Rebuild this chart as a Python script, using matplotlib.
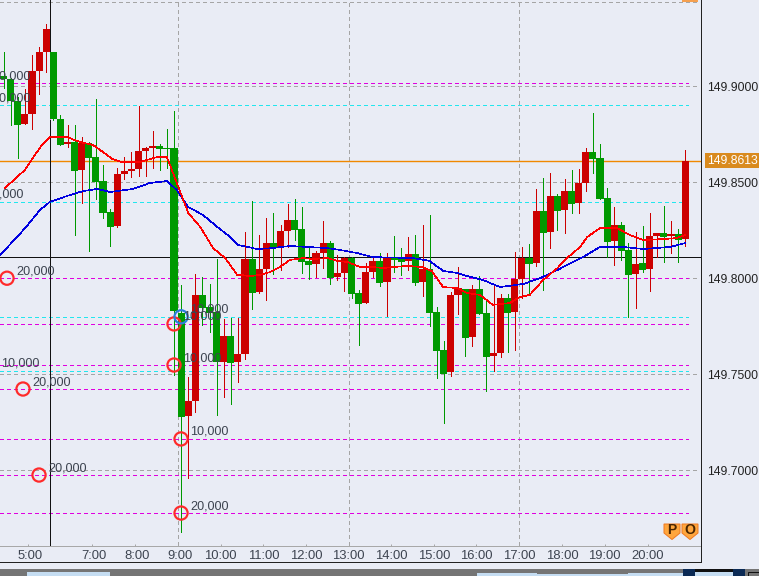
"""USD/JPY style 10-minute candle chart with moving averages and order levels."""

import matplotlib

matplotlib.use("Agg")
import matplotlib.pyplot as plt
from matplotlib.lines import Line2D
from matplotlib.patches import Polygon, Rectangle
from matplotlib.transforms import ScaledTranslation

WIDTH, HEIGHT = 759, 576
DPI = 100

opens = [
    149.9054, 149.9039, 149.8924, 149.8804, 149.8856, 149.9080, 149.9179, 149.9179, 149.8830, 149.8700,
    149.8710, 149.8565, 149.8705, 149.8632, 149.8507, 149.8346, 149.8273, 149.8544, 149.8559, 149.8570,
    149.8664, 149.8679, 149.8690, 149.8679, 149.8679, 149.7820, 149.7283, 149.7361, 149.7914, 149.7851,
    149.7825, 149.7565, 149.7700, 149.7565, 149.7606, 149.8101, 149.7929, 149.8049, 149.8184, 149.8158,
    149.8247, 149.8304, 149.8257, 149.8091, 149.8075, 149.8132, 149.8184, 149.8007, 149.8028, 149.8106,
    149.7924, 149.7872, 149.8033, 149.8091, 149.7981, 149.8111, 149.8101, 149.8091, 149.8127, 149.7981,
    149.8049, 149.7825, 149.7627, 149.7513, 149.7914, 149.7945, 149.7695, 149.7945, 149.7820, 149.7596,
    149.7611, 149.7898, 149.7825, 149.7997, 149.8106, 149.8080, 149.8351, 149.8242, 149.8429, 149.8356,
    149.8455, 149.8393, 149.8497, 149.8658, 149.8627, 149.8419, 149.8195, 149.8278, 149.8148, 149.8023,
    149.8080, 149.8049, 149.8221, 149.8236, 149.8221, 149.8231, 149.8205,
]
highs = [
    149.9179, 149.9044, 149.8945, 149.8986, 149.9164, 149.9205, 149.9325, 149.9179, 149.8851, 149.8799,
    149.8799, 149.8736, 149.8710, 149.8934, 149.8591, 149.8361, 149.8575, 149.8632, 149.8658, 149.8898,
    149.8684, 149.8768, 149.8700, 149.8778, 149.8872, 149.7966, 149.7487, 149.8023, 149.8007, 149.7971,
    149.8101, 149.7789, 149.7794, 149.7794, 149.8242, 149.8403, 149.8226, 149.8315, 149.8341, 149.8278,
    149.8388, 149.8414, 149.8372, 149.8158, 149.8143, 149.8299, 149.8195, 149.8122, 149.8111, 149.8111,
    149.7940, 149.8080, 149.8111, 149.8132, 149.8132, 149.8221, 149.8158, 149.8216, 149.8226, 149.8278,
    149.8330, 149.7851, 149.7674, 149.7929, 149.8059, 149.7945, 149.7966, 149.8012, 149.7888, 149.7966,
    149.7919, 149.7919, 149.8138, 149.8164, 149.8179, 149.8466, 149.8523, 149.8549, 149.8440, 149.8518,
    149.8565, 149.8570, 149.8679, 149.8861, 149.8700, 149.8471, 149.8372, 149.8294, 149.8184, 149.8242,
    149.8273, 149.8341, 149.8236, 149.8377, 149.8299, 149.8257, 149.8669,
]
lows = [
    149.8992, 149.8799, 149.8627, 149.8804, 149.8778, 149.8960, 149.9075, 149.8825, 149.8695, 149.8684,
    149.8226, 149.8393, 149.8143, 149.8414, 149.8315, 149.8169, 149.8268, 149.8518, 149.8528, 149.8533,
    149.8533, 149.8575, 149.8565, 149.8575, 149.7497, 149.6679, 149.6960, 149.7304, 149.7757, 149.7721,
    149.7289, 149.7382, 149.7346, 149.7461, 149.7580, 149.7841, 149.7924, 149.7888, 149.8023, 149.8044,
    149.8164, 149.8200, 149.8028, 149.7997, 149.8007, 149.8054, 149.7971, 149.7992, 149.7934, 149.7898,
    149.7653, 149.7872, 149.8007, 149.7960, 149.7804, 149.8033, 149.8018, 149.8044, 149.7966, 149.7908,
    149.7752, 149.7481, 149.7247, 149.7492, 149.7815, 149.7596, 149.7648, 149.7815, 149.7414, 149.7518,
    149.7591, 149.7617, 149.7627, 149.7898, 149.7919, 149.8065, 149.7940, 149.8158, 149.8252, 149.8236,
    149.8341, 149.8341, 149.8455, 149.8549, 149.8414, 149.8111, 149.8070, 149.8096, 149.7799, 149.7846,
    149.8033, 149.7934, 149.8111, 149.8085, 149.8132, 149.8085, 149.8169,
]
closes = [
    149.9039, 149.8924, 149.8799, 149.8856, 149.9080, 149.9179, 149.9299, 149.8830, 149.8695, 149.8710,
    149.8559, 149.8705, 149.8627, 149.8502, 149.8341, 149.8268, 149.8544, 149.8559, 149.8570, 149.8664,
    149.8679, 149.8690, 149.8674, 149.8674, 149.7830, 149.7278, 149.7361, 149.7914, 149.7846, 149.7820,
    149.7565, 149.7700, 149.7559, 149.7606, 149.8101, 149.7924, 149.8049, 149.8184, 149.8158, 149.8247,
    149.8304, 149.8252, 149.8085, 149.8070, 149.8132, 149.8184, 149.8002, 149.8028, 149.8106, 149.7919,
    149.7867, 149.8033, 149.8091, 149.7976, 149.8106, 149.8096, 149.8085, 149.8127, 149.7976, 149.8049,
    149.7820, 149.7622, 149.7502, 149.7914, 149.7950, 149.7690, 149.7945, 149.7815, 149.7591, 149.7611,
    149.7898, 149.7820, 149.7997, 149.8106, 149.8075, 149.8351, 149.8236, 149.8429, 149.8351, 149.8455,
    149.8388, 149.8497, 149.8658, 149.8622, 149.8414, 149.8190, 149.8278, 149.8143, 149.8018, 149.8075,
    149.8044, 149.8221, 149.8236, 149.8216, 149.8231, 149.8200, 149.8613,
]

red_ma_x = [
    0.2, 1.9, 3.0, 4.1, 5.4, 6.5, 8.9, 10.8, 12.6, 14.0, 15.3, 16.7, 19.2, 21.6, 23.0, 24.4, 26.0, 27.7,
    29.5, 31.2, 32.9, 33.3, 34.7, 36.1, 37.5, 38.9, 40.3, 42.2, 43.6, 45.6, 47.0, 48.5, 50.2, 52.0, 53.4,
    54.8, 56.8, 59.1, 60.3, 61.9, 63.9, 65.3, 67.1, 68.9, 71.3, 72.7, 74.1, 76.0, 78.0, 79.5, 81.2, 82.2,
    84.0, 86.4, 88.2, 90.1, 92.9, 94.8, 96.0,
]
red_ma = [
    149.8471, 149.8528, 149.8565, 149.8627, 149.8695, 149.8736, 149.8736, 149.8710, 149.8695, 149.8658,
    149.8622, 149.8606, 149.8606, 149.8632, 149.8632, 149.8497, 149.8341, 149.8268, 149.8158, 149.8106,
    149.8018, 149.8018, 149.8012, 149.8018, 149.8033, 149.8059, 149.8096, 149.8106, 149.8101, 149.8106,
    149.8091, 149.8085, 149.8059, 149.8059, 149.8054, 149.8059, 149.8065, 149.8059, 149.8038, 149.7955,
    149.7950, 149.7924, 149.7914, 149.7862, 149.7872, 149.7903, 149.7914, 149.7992, 149.8054, 149.8111,
    149.8164, 149.8216, 149.8262, 149.8262, 149.8226, 149.8200, 149.8205, 149.8210, 149.8226,
]
blue_ma_x = [
    -0.5, 1.9, 3.4, 5.1, 6.5, 8.9, 11.2, 13.2, 15.0, 18.2, 20.6, 23.0, 24.4, 26.0, 28.1, 30.1, 31.9, 33.0,
    34.4, 35.7, 37.9, 40.3, 42.7, 45.6, 47.4, 49.8, 52.0, 57.7, 60.0, 61.9, 63.9, 65.3, 67.5, 69.9, 73.2,
    75.6, 78.0, 81.6, 84.0, 87.2, 90.1, 93.9, 96.0,
]
blue_ma = [
    149.8122, 149.8216, 149.8278, 149.8356, 149.8398, 149.8429, 149.8455, 149.8466, 149.8450, 149.8466,
    149.8497, 149.8507, 149.8460, 149.8372, 149.8330, 149.8268, 149.8216, 149.8174, 149.8164, 149.8153,
    149.8158, 149.8169, 149.8164, 149.8158, 149.8148, 149.8132, 149.8111, 149.8106, 149.8091, 149.8039,
    149.8028, 149.8012, 149.7992, 149.7955, 149.7971, 149.8002, 149.8044, 149.8111, 149.8164, 149.8164,
    149.8153, 149.8164, 149.8184,
]

grid_levels = [149.9437, 149.90, 149.85, 149.80, 149.75, 149.70]
magenta_levels = [149.9016, 149.8001, 149.7763, 149.7549, 149.7424, 149.7164, 149.6976, 149.6778]
cyan_levels = [149.8903, 149.8398, 149.7800, 149.7518]

# rings sit on the order levels; some are scrolled off to the left
red_ring_x = [-2.9, 0.48, 2.73, 4.99, 24.0, 24.0, 24.99, 24.99]
red_ring_y = [149.9016, 149.8001, 149.7424, 149.6976, 149.7763, 149.7549, 149.7164, 149.6778]
red_ring_labels = ["10,000", "20,000", "20,000", "20,000", "10,000", "10,000", "10,000", "20,000"]
blue_ring_x = [-2.9, -3.9, -1.6, 24.99]
blue_ring_y = [149.8903, 149.8398, 149.7518, 149.7800]
blue_ring_labels = ["10,000", "10,000", "10,000", "10,000"]

price_ticks = [149.70, 149.75, 149.80, 149.85, 149.90]
last_price = 149.8613
time_positions = [3.48, 12.49, 18.55, 24.6, 30.58, 36.58, 42.59, 48.58, 54.56, 60.58, 66.58, 72.59, 78.69, 84.63, 90.69]
time_labels = ["5:00", "7:00", "8:00", "9:00", "10:00", "11:00", "12:00", "13:00", "14:00", "15:00", "16:00", "17:00", "18:00", "19:00", "20:00"]
hour_grid = [24.6, 48.58, 72.59]
cursor_x = 6.6
cursor_y = 149.8109

# scroller strip at the bottom, pixel ranges (left, right, top)
scroller_fill = [(27, 110, 572), (477, 537, 572.5), (537, 628, 574), (628, 683, 572.5), (695, 733, 571.5)]
scroller_handles = [(683, 695), (733, 745)]

BACKGROUND = "#E9ECF5"
UP_COLOR = "#CC0000"
DOWN_COLOR = "#009900"
PX = 72 / DPI  # one pixel in points


def fig_x(px):
    return px / WIDTH


def fig_y(py):
    return 1 - py / HEIGHT


def draw_levels(axes):
    dash = (0, (3, 3))
    crisp = dict(linewidth=PX, antialiased=False)
    axes.hlines(grid_levels, -0.51, 97.7, color="#A5A5A5", linestyle=dash, zorder=1, **crisp)
    axes.vlines(hour_grid, 149.6609, 149.945, color="#A5A5A5", linestyle=dash, zorder=1, **crisp)
    axes.hlines(magenta_levels, -0.51, 96.4, color="#E000E0", linestyle=dash, zorder=1.2, **crisp)
    axes.hlines(cyan_levels, -0.51, 96.4, color="#22E6EE", linestyle=dash, zorder=1.2, **crisp)
    axes.axhline(last_price, color="#F08800", linewidth=1.4 * PX, zorder=1.4)
    axes.axhline(cursor_y, color="#111111", zorder=1.5, **crisp)
    axes.axvline(cursor_x, color="#111111", zorder=1.5, **crisp)
    axes.vlines(cursor_x, closes[7], opens[7], color="#FF66FF", zorder=1.6, **crisp)


def draw_candles(axes):
    positions = range(len(opens))
    colors = [UP_COLOR if c >= o else DOWN_COLOR for o, c in zip(opens, closes)]
    axes.vlines(positions, lows, highs, colors=colors, linewidth=PX, antialiased=False, zorder=2)
    bottoms = [min(o, c) for o, c in zip(opens, closes)]
    heights = [abs(c - o) for o, c in zip(opens, closes)]
    axes.bar(positions, heights, bottom=bottoms, width=1.0, color=colors, linewidth=0, antialiased=False, zorder=3)


def draw_rings(axes):
    for xs, ys, labels, color in [
        (red_ring_x, red_ring_y, red_ring_labels, "#FF2A2A"),
        (blue_ring_x, blue_ring_y, blue_ring_labels, "#2A7FDB"),
    ]:
        axes.scatter(xs, ys, s=90, facecolors="none", edgecolors=color, linewidths=2.2 * PX, zorder=6)
        for x, y, label in zip(xs, ys, labels):
            axes.annotate(
                label, xy=(x, y), xytext=(9.2 * PX, 7 * PX), textcoords="offset points",
                ha="left", va="center", fontsize=12.6 * PX, color="#3D4450", annotation_clip=False, zorder=7,
            )


def draw_frame(figure):
    figure.add_artist(Line2D([fig_x(700.5)] * 2, [fig_y(0), fig_y(562.3)], color="#222222", linewidth=PX))
    figure.add_artist(Line2D([0, fig_x(701)], [fig_y(562.3)] * 2, color="#222222", linewidth=PX))

    def strip(left, right, top, color, bottom=HEIGHT):
        figure.add_artist(Rectangle(
            (fig_x(left), fig_y(bottom)), (right - left) / WIDTH, (bottom - top) / HEIGHT,
            transform=figure.transFigure, facecolor=color, edgecolor="none",
        ))

    strip(0, WIDTH, 569, "#757575")
    for left, right, top in scroller_fill:
        strip(left, right, top, "#C5DDF2")
    strip(695, 733, 569, "#111111", bottom=571.5)
    for left, right in scroller_handles:
        strip(left, right, 569, "#0B2A55")
    figure.add_artist(Rectangle(
        (fig_x(747.5), fig_y(576)), 12 / WIDTH, 4.5 / HEIGHT, transform=figure.transFigure,
        facecolor="#757575", edgecolor="#111111", linewidth=PX,
    ))
    strip(682, 698, 0, "#F5A050", bottom=1.5)


def draw_badges(figure):
    for center, letter in [(672, "P"), (690, "O")]:
        corners = [
            (center - 8, 524), (center + 8, 524), (center + 8, 533), (center, 539.5), (center - 8, 533),
        ]
        figure.add_artist(Polygon(
            [(fig_x(x), fig_y(y)) for x, y in corners], closed=True, transform=figure.transFigure,
            facecolor="#FFA63D", edgecolor="#F07A20", linewidth=PX,
        ))
        figure.text(
            fig_x(center), fig_y(530.5), letter, ha="center", va="center",
            fontsize=14 * PX, fontweight="bold", color="#4A2500",
        )


def main():
    plt.rcParams["font.family"] = ["Liberation Sans", "DejaVu Sans"]
    figure = plt.figure(figsize=(WIDTH / DPI, HEIGHT / DPI), dpi=DPI, facecolor=BACKGROUND)
    axes = figure.add_axes([0, fig_y(545.5), 700.5 / WIDTH, 545.5 / HEIGHT], facecolor=BACKGROUND)
    axes.set_xlim(-0.507, 98.15)
    axes.set_ylim(149.6609, 149.945)

    draw_levels(axes)
    draw_candles(axes)
    axes.plot(blue_ma_x, blue_ma, color="#0000E0", linewidth=0.6 * PX, antialiased=False, zorder=4)
    axes.plot(red_ma_x, red_ma, color="#FF0000", linewidth=0.6 * PX, antialiased=False, zorder=5)
    draw_rings(axes)

    axes.yaxis.tick_right()
    axes.set_yticks(price_ticks)
    axes.set_yticklabels([f"{tick:.4f}" for tick in price_ticks], fontsize=12.2 * PX, color="#222222")
    axes.tick_params(axis="y", length=0, pad=6.2 * PX)
    axes.set_xticks(time_positions)
    axes.set_xticklabels(time_labels, fontsize=13 * PX, color="#3D4450")
    axes.tick_params(axis="x", direction="in", length=2 * PX, width=PX, color="#A8A8A8", pad=4.5 * PX)
    # the shorter hour labels sit a little right of their tick
    shift = ScaledTranslation(2 / DPI, 0, figure.dpi_scale_trans)
    for label in axes.get_xticklabels():
        if len(label.get_text()) == 4:
            label.set_transform(label.get_transform() + shift)

    for side in ["top", "left", "right"]:
        axes.spines[side].set_visible(False)
    axes.spines["bottom"].set_color("#A8A8A8")
    axes.spines["bottom"].set_linewidth(PX)

    axes.annotate(
        f"{last_price:.4f}", xy=(1, last_price), xycoords=("axes fraction", "data"),
        xytext=(6.2 * PX, 0), textcoords="offset points", ha="left", va="center",
        fontsize=12.2 * PX, color="white", annotation_clip=False,
        bbox=dict(boxstyle="square,pad=0.12", facecolor="#D98A1E", edgecolor="none"),
    )

    draw_frame(figure)
    draw_badges(figure)
    figure.savefig("out.png", dpi=DPI, facecolor=BACKGROUND)


if __name__ == "__main__":
    main()
